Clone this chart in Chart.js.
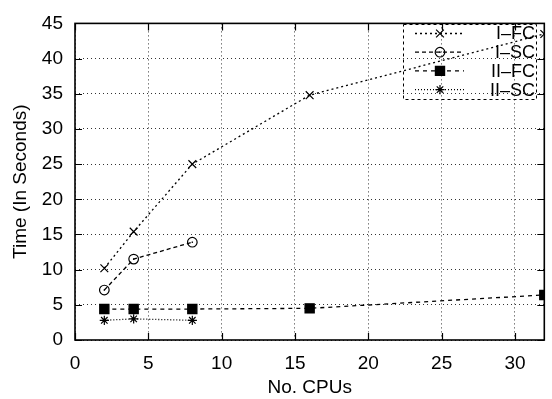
<!DOCTYPE html>
<html>
<head>
<meta charset="utf-8">
<script src="https://cdn.jsdelivr.net/npm/chart.js@4/dist/chart.umd.min.js"></script>
<style>
  html, body { margin: 0; padding: 0; background: #fff; }
  #wrap { width: 552px; height: 399px; }
</style>
</head>
<body>
<div id="wrap"><canvas id="c" width="552" height="399"></canvas></div>
<script>
var labels = ['I\u2013FC', 'I\u2013SC', 'II\u2013FC', 'II\u2013SC'];
var iFcX = [2, 4, 8, 16, 32];
var iFcY = [10.2, 15.4, 25.0, 34.8, 43.5];
var iScX = [2, 4, 8];
var iScY = [7.1, 11.5, 13.9];
var iiFcX = [2, 4, 8, 16, 32];
var iiFcY = [4.4, 4.4, 4.4, 4.5, 6.4];
var iiScX = [2, 4, 8];
var iiScY = [2.8, 3.0, 2.8];

var FONT = 'Liberation Sans, Arial, sans-serif';

function pts(xs, ys) {
  var out = [];
  for (var i = 0; i < xs.length; i++) out.push({ x: xs[i], y: ys[i] });
  return out;
}

var styles = [
  { dash: [2, 3], point: 'crossRot', radius: 5.5, fill: false },
  { dash: [4, 3], point: 'circle', radius: 4.8, fill: false },
  { dash: [4, 4], point: 'rect', radius: 6.5, fill: true },
  { dash: [1, 2], point: 'star', radius: 4.6, fill: false }
];
var series = [pts(iFcX, iFcY), pts(iScX, iScY), pts(iiFcX, iiFcY), pts(iiScX, iiScY)];

var datasets = series.map(function (d, i) {
  var s = styles[i];
  return {
    label: labels[i],
    data: d,
    borderColor: '#000',
    backgroundColor: s.fill ? '#000' : 'rgba(0,0,0,0)',
    borderWidth: 1.3,
    borderDash: s.dash,
    pointStyle: s.point,
    pointRadius: s.radius,
    pointBorderWidth: 1.2,
    pointBorderColor: '#000',
    pointBackgroundColor: s.fill ? '#000' : 'rgba(0,0,0,0)',
    showLine: true,
    tension: 0
  };
});

// inward ticks, border, legend box
var gnuplotBits = {
  id: 'gnuplotBits',
  afterDatasetsDraw: function (chart) {
    var ctx = chart.ctx, a = chart.chartArea;
    var xs = chart.scales.x, ys = chart.scales.y;
    ctx.save();
    ctx.strokeStyle = '#000';
    ctx.lineWidth = 1.2;
    ctx.setLineDash([]);
    ctx.beginPath();
    xs.ticks.forEach(function (t) {
      var px = Math.round(xs.getPixelForValue(t.value)) + 0.5;
      ctx.moveTo(px, a.bottom); ctx.lineTo(px, a.bottom - 7);
      ctx.moveTo(px, a.top); ctx.lineTo(px, a.top + 7);
    });
    ys.ticks.forEach(function (t) {
      var py = Math.round(ys.getPixelForValue(t.value)) + 0.5;
      ctx.moveTo(a.left, py); ctx.lineTo(a.left + 7, py);
      ctx.moveTo(a.right, py); ctx.lineTo(a.right - 7, py);
    });
    ctx.stroke();
    ctx.lineWidth = 1.6;
    ctx.strokeRect(a.left, a.top, a.right - a.left, a.bottom - a.top);

    // centre dots of the circle markers
    ctx.fillStyle = '#000';
    chart.getDatasetMeta(1).data.forEach(function (p) {
      ctx.fillRect(p.x - 0.7, p.y - 0.7, 1.4, 1.4);
    });

    // legend
    var bx = 403, by = 24, bw = 133, bh = 75;
    ctx.lineWidth = 1;
    ctx.setLineDash([3, 3]);
    ctx.strokeRect(bx + 0.5, by + 0.5, bw, bh);
    ctx.font = '18px ' + FONT;
    ctx.textAlign = 'right';
    ctx.textBaseline = 'middle';
    for (var i = 0; i < labels.length; i++) {
      var ry = 33.5 + i * 18.7;
      var s = styles[i];
      ctx.lineWidth = 1.3;
      ctx.setLineDash(s.dash);
      ctx.beginPath();
      ctx.moveTo(415, ry); ctx.lineTo(464, ry);
      ctx.stroke();
      ctx.setLineDash([]);
      ctx.lineWidth = 1.2;
      ctx.fillStyle = s.fill ? '#000' : 'rgba(0,0,0,0)';
      Chart.helpers.drawPoint(ctx, {
        pointStyle: s.point, radius: s.radius, borderWidth: 1.2
      }, 440, ry);
      ctx.fillStyle = '#000';
      if (s.point === 'circle') ctx.fillRect(439.3, ry - 0.7, 1.4, 1.4);
      ctx.fillText(labels[i], 535, ry + 1);
    }
    ctx.restore();
  }
};

new Chart(document.getElementById('c'), {
  type: 'scatter',
  data: { datasets: datasets },
  options: {
    responsive: false,
    animation: false,
    layout: { padding: { top: 16, right: 5, left: 0, bottom: 0 } },
    plugins: { legend: { display: false }, tooltip: { enabled: false } },
    scales: {
      x: {
        type: 'linear',
        min: 0,
        max: 32,
        afterFit: function (s) { s.height = 59; },
        ticks: { stepSize: 5, includeBounds: false, color: '#000', font: { family: FONT, size: 19 }, padding: 12, maxRotation: 0 },
        grid: { color: '#333', lineWidth: 1, drawTicks: false, tickLength: 0 },
        border: { display: false, dash: [1, 3] },
        title: { display: true, text: 'No. CPUs', color: '#000', font: { family: FONT, size: 19 }, padding: { top: 0, bottom: 0 } }
      },
      y: {
        type: 'linear',
        min: 0,
        max: 45,
        afterFit: function (s) { s.width = 75; },
        ticks: { stepSize: 5, color: '#000', font: { family: FONT, size: 19 }, padding: 12 },
        grid: { color: '#333', lineWidth: 1, drawTicks: false, tickLength: 0 },
        border: { display: false, dash: [1, 3] },
        title: { display: true, text: 'Time (In Seconds)', color: '#000', font: { family: FONT, size: 19 }, padding: { top: 9, bottom: 0 } }
      }
    }
  },
  plugins: [gnuplotBits]
});
</script>
</body>
</html>
